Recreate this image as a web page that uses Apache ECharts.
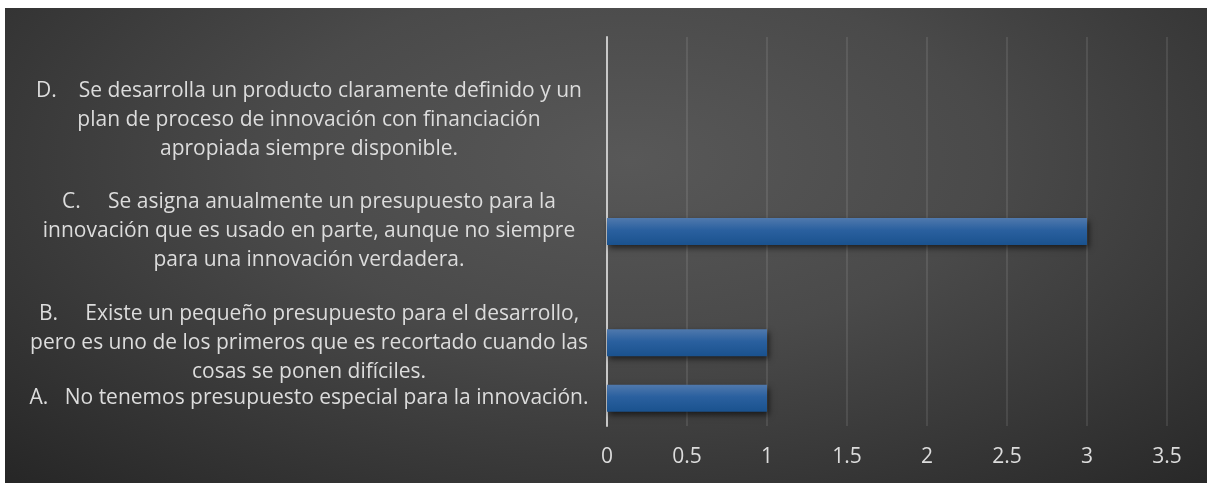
<!DOCTYPE html>
<html>
<head>
<meta charset="utf-8">
<script src="https://cdn.jsdelivr.net/npm/echarts@6/dist/echarts.min.js"></script>
<style>
  html, body { margin: 0; padding: 0; background: #ffffff; }
  /* fondo oscuro con degradado radial */
  #chart {
    position: absolute;
    left: 5px;
    top: 8px;
    width: 1202px;
    height: 475px;
    background: radial-gradient(ellipse 75% 95% at 52% 32%, #585858 0%, #4a4a4a 40%, #262626 100%);
  }
</style>
</head>
<body>
<div id="chart"></div>
<script>
  // categorías (de abajo hacia arriba), con filas vacías como en la hoja original
  var categories = [
    'A.   No tenemos presupuesto especial para la innovación.',
    'B.     Existe un pequeño presupuesto para el desarrollo,\npero es uno de los primeros que es recortado cuando las\ncosas se ponen difíciles.',
    '',
    'C.     Se asigna anualmente un presupuesto para la\ninnovación que es usado en parte, aunque no siempre\npara una innovación verdadera.',
    '',
    'D.    Se desarrolla un producto claramente definido y un\nplan de proceso de innovación con financiación\napropiada siempre disponible.',
    ''
  ];
  var values = [1, 1, null, 3, null, 0, null];
  var axisMin = 0;
  var axisMax = 3.5;
  var axisStep = 0.5;

  var myChart = echarts.init(document.getElementById('chart'));
  myChart.setOption({
    backgroundColor: 'transparent',
    animation: false,
    textStyle: { fontFamily: 'Open Sans' },
    grid: {
      left: 602,
      right: 40,
      top: 29,
      bottom: 57
    },
    xAxis: {
      type: 'value',
      min: axisMin,
      max: axisMax,
      interval: axisStep,
      axisLine: { show: false },
      axisTick: { show: false },
      axisLabel: {
        color: '#dcdcdc',
        fontSize: 21,
        fontFamily: 'Open Sans',
        margin: 21
      },
      splitLine: {
        lineStyle: { color: 'rgba(255,255,255,0.13)', width: 1.5 }
      }
    },
    yAxis: {
      type: 'category',
      data: categories,
      axisTick: { show: false },
      axisLine: {
        lineStyle: { color: '#c8c8c8', width: 2 }
      },
      axisLabel: {
        color: '#dcdcdc',
        fontSize: 21,
        fontFamily: 'Open Sans',
        lineHeight: 29,
        align: 'center',
        margin: 298,
        interval: 0
      }
    },
    series: [{
      type: 'bar',
      data: values,
      barWidth: 27,
      itemStyle: {
        color: new echarts.graphic.LinearGradient(0, 0, 0, 1, [
          { offset: 0, color: '#5079ad' },
          { offset: 0.45, color: '#2a609f' },
          { offset: 1, color: '#1a528e' }
        ]),
        shadowColor: 'rgba(0,0,0,0.6)',
        shadowBlur: 6,
        shadowOffsetX: 2,
        shadowOffsetY: 3
      }
    }]
  });
</script>
</body>
</html>
